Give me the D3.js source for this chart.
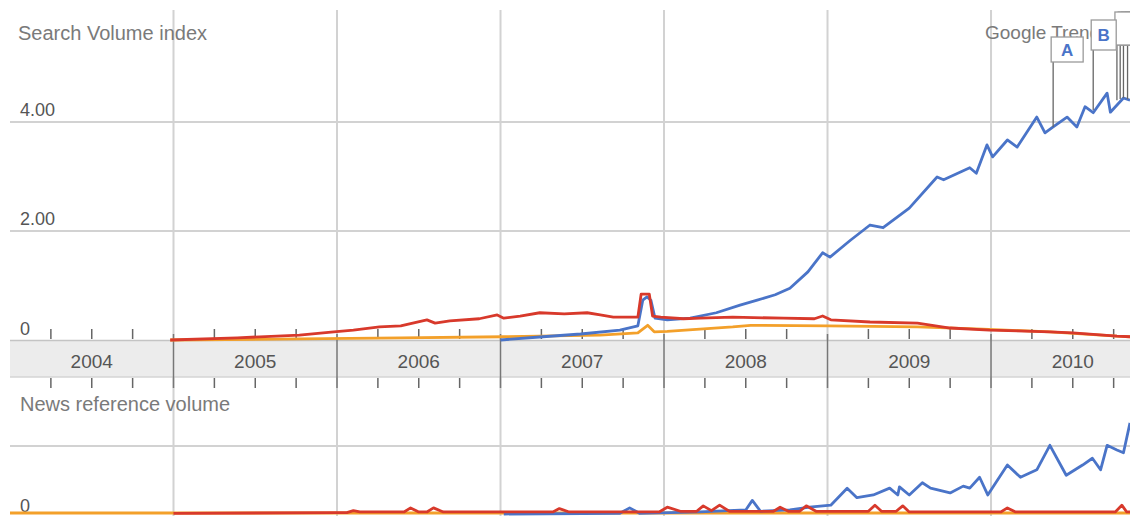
<!DOCTYPE html>
<meta charset="utf-8">
<html>
<head>
  <script src="https://d3js.org/d3.v7.min.js"></script>
  <style>
    body { margin: 0; background: #fff; }
    text { font-family: "Liberation Sans", Arial, sans-serif; }
  </style>
</head>
<body>
<script>
// years shown on the band
const years = [2004, 2005, 2006, 2007, 2008, 2009, 2010];
const topTicks = [2, 4];
const topTickLabels = ["2.00", "4.00"];

// search volume index, [decimal year, value]
const blueTop = [
  [2007.0, 0], [2007.26, 0.06], [2007.49, 0.11], [2007.73, 0.18], [2007.84, 0.26],
  [2007.87, 0.73], [2007.896, 0.79], [2007.92, 0.73], [2007.945, 0.40], [2008.02, 0.37],
  [2008.16, 0.40], [2008.32, 0.50], [2008.465, 0.64], [2008.57, 0.73], [2008.68, 0.83],
  [2008.77, 0.95], [2008.88, 1.25], [2008.97, 1.60], [2009.015, 1.52], [2009.14, 1.83],
  [2009.26, 2.11], [2009.34, 2.06], [2009.50, 2.42], [2009.67, 2.99], [2009.71, 2.94],
  [2009.87, 3.16], [2009.91, 3.06], [2009.975, 3.58], [2010.01, 3.36], [2010.10, 3.67],
  [2010.16, 3.54], [2010.28, 4.09], [2010.33, 3.80], [2010.38, 3.91], [2010.465, 4.09],
  [2010.525, 3.91], [2010.575, 4.28], [2010.625, 4.17], [2010.71, 4.53], [2010.73, 4.18],
  [2010.81, 4.44], [2010.85, 4.40]
];
const redTop = [
  [2004.98, 0], [2005.39, 0.04], [2005.77, 0.09], [2005.98, 0.15], [2006.10, 0.18],
  [2006.26, 0.24], [2006.39, 0.26], [2006.55, 0.37], [2006.60, 0.31], [2006.69, 0.35],
  [2006.87, 0.39], [2006.98, 0.46], [2007.02, 0.40], [2007.12, 0.44], [2007.24, 0.50],
  [2007.39, 0.48], [2007.53, 0.50], [2007.61, 0.46], [2007.69, 0.42], [2007.84, 0.42],
  [2007.86, 0.84], [2007.91, 0.84], [2007.93, 0.44], [2007.98, 0.42], [2008.12, 0.39],
  [2008.22, 0.40], [2008.42, 0.42], [2008.73, 0.40], [2008.92, 0.39], [2008.97, 0.44],
  [2009.02, 0.37], [2009.26, 0.33], [2009.55, 0.31], [2009.75, 0.22], [2009.99, 0.18],
  [2010.36, 0.15], [2010.50, 0.13], [2010.77, 0.07], [2010.85, 0.06]
];
const orangeTop = [
  [2004.98, 0], [2005.77, 0.02], [2006.39, 0.04], [2007.02, 0.06], [2007.61, 0.09],
  [2007.84, 0.13], [2007.90, 0.27], [2007.94, 0.15], [2008.02, 0.16], [2008.42, 0.24],
  [2008.53, 0.27], [2009.00, 0.26], [2009.55, 0.24], [2009.95, 0.20], [2010.36, 0.15],
  [2010.77, 0.07], [2010.85, 0.06]
];

// news reference volume
const blueNews = [
  [2007.02, 0], [2007.73, 0.01], [2007.79, 0.09], [2007.85, 0.01], [2008.22, 0.03],
  [2008.50, 0.06], [2008.54, 0.20], [2008.59, 0.04], [2008.77, 0.06], [2008.89, 0.10],
  [2009.02, 0.13], [2009.12, 0.38], [2009.18, 0.24], [2009.28, 0.28], [2009.38, 0.38],
  [2009.43, 0.28], [2009.44, 0.40], [2009.50, 0.28], [2009.58, 0.46], [2009.63, 0.38],
  [2009.75, 0.31], [2009.83, 0.41], [2009.87, 0.38], [2009.93, 0.54], [2009.98, 0.28],
  [2010.10, 0.72], [2010.18, 0.54], [2010.28, 0.65], [2010.36, 1.01], [2010.46, 0.57],
  [2010.56, 0.72], [2010.62, 0.82], [2010.67, 0.65], [2010.71, 1.01], [2010.77, 0.94],
  [2010.81, 0.90], [2010.85, 1.34]
];
const redNews = [
  [2005.0, 0.01], [2006.0, 0.02], [2006.06, 0.02], [2006.1, 0.05], [2006.14, 0.03],
  [2006.41, 0.03], [2006.45, 0.09], [2006.5, 0.03], [2006.55, 0.03], [2006.59, 0.09],
  [2006.65, 0.03], [2007.32, 0.03], [2007.36, 0.08], [2007.42, 0.03], [2007.97, 0.03],
  [2008.02, 0.10], [2008.1, 0.04], [2008.2, 0.04], [2008.24, 0.12], [2008.29, 0.05],
  [2008.34, 0.13], [2008.4, 0.04], [2008.67, 0.04], [2008.71, 0.10], [2008.76, 0.04],
  [2008.83, 0.04], [2008.87, 0.12], [2008.93, 0.04], [2009.25, 0.04], [2009.29, 0.13],
  [2009.33, 0.04], [2009.42, 0.04], [2009.46, 0.12], [2009.5, 0.03], [2010.06, 0.03],
  [2010.10, 0.09], [2010.15, 0.03], [2010.76, 0.03], [2010.80, 0.13], [2010.83, 0.03],
  [2010.85, 0.03]
];
const orangeNews = [[2004.0, 0.015], [2007.0, 0.015], [2010.85, 0.015]];

// news flags (only A and B are readable, the rest sit behind B)
const flagLetters = ["A", "B", "", "", "", ""];
const flagDates = [2010.38, 2010.625, 2010.77, 2010.79, 2010.81, 2010.835];
const flagValues = [3.91, 4.22, 4.40, 4.42, 4.44, 4.42];

const W = 1130, H = 516;
const blue = "#4a74c8", red = "#d8392b", orange = "#f3a02a";

const svg = d3.select("body").append("svg")
  .attr("width", W).attr("height", H);

const x = d3.scaleLinear().domain([2004, 2010.85]).range([10, W]);
const yTop = d3.scaleLinear().domain([0, 4]).range([340, 122]);
const yNews = d3.scaleLinear().domain([0, 1]).range([514, 446]);

// horizontal gridlines
svg.selectAll(".hgrid").data(topTicks).join("line")
  .attr("x1", 10).attr("x2", W)
  .attr("y1", d => yTop(d)).attr("y2", d => yTop(d))
  .attr("stroke", "#d2d2d2").attr("stroke-width", 2);
svg.append("line")
  .attr("x1", 10).attr("x2", W)
  .attr("y1", yNews(1)).attr("y2", yNews(1))
  .attr("stroke", "#d2d2d2").attr("stroke-width", 2);

// vertical year gridlines
const yearLines = years.slice(1);
svg.selectAll(".vgrid").data(yearLines).join("line")
  .attr("x1", d => x(d)).attr("x2", d => x(d))
  .attr("y1", 10).attr("y2", H)
  .attr("stroke", "#d2d2d2").attr("stroke-width", 2);

// year band
svg.append("rect")
  .attr("x", 10).attr("y", 341).attr("width", W - 10).attr("height", 36)
  .attr("fill", "#ececec");
svg.append("line")
  .attr("x1", 10).attr("x2", W).attr("y1", 340.5).attr("y2", 340.5)
  .attr("stroke", "#c4c4c4").attr("stroke-width", 1.5);
svg.append("line")
  .attr("x1", 10).attr("x2", W).attr("y1", 377).attr("y2", 377)
  .attr("stroke", "#d4d4d4").attr("stroke-width", 1.5);

svg.selectAll(".ylab").data(years).join("text")
  .attr("x", d => x(d + 0.5)).attr("y", 368)
  .attr("text-anchor", "middle")
  .attr("font-size", 19).attr("fill", "#555")
  .text(d => d);

// year boundaries inside band
svg.selectAll(".ybound").data(yearLines).join("line")
  .attr("x1", d => x(d)).attr("x2", d => x(d))
  .attr("y1", 334).attr("y2", 388)
  .attr("stroke", "#777").attr("stroke-width", 1.5);

// quarter ticks
const quarters = [];
years.forEach(yr => [0.25, 0.5, 0.75].forEach(q => quarters.push(yr + q)));
[[329, 339], [378, 388]].forEach(([a, b]) => {
  svg.append("g").selectAll("line").data(quarters.filter(d => x(d) < W)).join("line")
    .attr("x1", d => x(d)).attr("x2", d => x(d))
    .attr("y1", a).attr("y2", b)
    .attr("stroke", "#666").attr("stroke-width", 1.5);
});

// axis labels
svg.selectAll(".tlab").data(topTicks).join("text")
  .attr("x", 20).attr("y", d => yTop(d) - 6)
  .attr("font-size", 18).attr("fill", "#555")
  .text((d, i) => topTickLabels[i]);
svg.append("text").attr("x", 20).attr("y", 335)
  .attr("font-size", 18).attr("fill", "#555").text("0");
svg.append("text").attr("x", 20).attr("y", 512)
  .attr("font-size", 18).attr("fill", "#555").text("0");
svg.append("text").attr("x", 18).attr("y", 40)
  .attr("font-size", 20).attr("fill", "#7a7a7a").text("Search Volume index");
svg.append("text").attr("x", 20).attr("y", 411)
  .attr("font-size", 20).attr("fill", "#7a7a7a").text("News reference volume");
svg.append("text").attr("x", 985).attr("y", 39)
  .attr("font-size", 19).attr("fill", "#7a7a7a").text("Google Trends");

// series
const lineTop = d3.line().x(d => x(d[0])).y(d => yTop(d[1]));
const lineNews = d3.line().x(d => x(d[0])).y(d => yNews(d[1]));

function draw(gen, data, color) {
  svg.append("path").datum(data)
    .attr("d", gen)
    .attr("fill", "none")
    .attr("stroke", color)
    .attr("stroke-width", 2.8)
    .attr("stroke-linejoin", "round");
}
draw(lineTop, orangeTop, orange);
draw(lineTop, blueTop, blue);
draw(lineTop, redTop, red);
draw(lineNews, orangeNews, orange);
draw(lineNews, blueNews, blue);
draw(lineNews, redNews, red);

// flags, last drawn on top
const flagTop = [37, 20, 12, 12, 12, 12];
const flagW = [32, 25, 24, 24, 24, 24];
const flagH = [25, 30, 33, 33, 33, 33];
d3.range(flagLetters.length).reverse().forEach(i => {
  const fx = x(flagDates[i]);
  const g = svg.append("g");
  g.append("line")
    .attr("x1", fx).attr("x2", fx)
    .attr("y1", flagTop[i] + flagH[i]).attr("y2", yTop(flagValues[i]))
    .attr("stroke", "#666").attr("stroke-width", 1.3);
  g.append("rect")
    .attr("x", fx - 2).attr("y", flagTop[i])
    .attr("width", flagW[i]).attr("height", flagH[i])
    .attr("fill", "#fff").attr("stroke", "#9a9a9a").attr("stroke-width", 1.3);
  if (flagLetters[i]) {
    g.append("text")
      .attr("x", fx - 2 + flagW[i] / 2).attr("y", flagTop[i] + flagH[i] / 2 + 6)
      .attr("text-anchor", "middle")
      .attr("font-size", 17).attr("font-weight", "bold").attr("fill", blue)
      .text(flagLetters[i]);
  }
});
</script>
</body>
</html>
